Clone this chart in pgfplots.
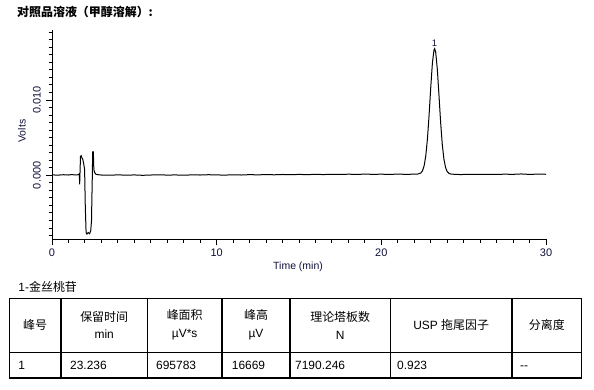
\documentclass[border=0pt]{standalone}
\usepackage{fontspec}
\setmainfont{Liberation Sans}
\newfontfamily\cjk{Noto Sans CJK SC}
\usepackage{pgfplots}
\pgfplotsset{compat=1.18}
\usepackage{pgfplotstable}
\definecolor{lab}{RGB}{15,15,60}
\pgfplotstableread{
t v
0.0 0.00005
0.4 0.00003
0.7 0.00008
1.0 0.00004
1.2 0.00010
1.4 0.00005
1.6 0.00008
1.66 0.00020
1.68 -0.00120
1.70 0.00030
1.73 0.00250
1.77 0.00260
1.82 0.00230
1.86 0.00220
1.92 0.00160
1.98 0.00080
2.02 -0.00400
2.07 -0.00760
2.12 -0.00780
2.20 -0.00760
2.28 -0.00775
2.35 -0.00740
2.40 -0.00600
2.42 -0.00330
2.45 0.00010
2.47 0.00310
2.51 0.00310
2.54 0.00080
2.58 0.00040
2.66 0.00015
2.8 0.00008
3.0 0.00004
3.5 0.00001
4.0 0.00006
4.5 0.00002
5.0 0.00005
5.5 0.00000
6.0 0.00004
6.5 0.00007
7.0 0.00003
7.5 0.00005
8.0 0.00001
8.5 0.00006
9.0 0.00004
9.5 0.00008
10.0 0.00005
10.5 0.00003
11.0 0.00007
11.5 0.00004
12.0 0.00009
12.5 0.00006
13.0 0.00010
13.5 0.00007
14.0 0.00011
14.5 0.00008
15.0 0.00012
15.5 0.00009
16.0 0.00013
16.5 0.00010
17.0 0.00014
17.5 0.00011
18.0 0.00015
18.5 0.00012
19.0 0.00016
19.5 0.00013
20.0 0.00015
20.5 0.00012
21.0 0.00016
21.5 0.00013
22.0 0.00015
22.2 0.00016
22.4 0.00031
22.5 0.00060
22.6 0.00128
22.7 0.00261
22.8 0.00485
22.9 0.00801
23.0 0.01165
23.1 0.01489
23.2 0.01668
23.236 0.01682
23.3 0.01637
23.4 0.01409
23.5 0.01063
23.6 0.00705
23.7 0.00412
23.8 0.00215
23.9 0.00103
24.0 0.00049
24.1 0.00027
24.2 0.00018
24.4 0.00014
24.8 0.00010
25.3 0.00013
26.0 0.00011
26.5 0.00014
27.0 0.00012
27.5 0.00015
28.0 0.00013
28.5 0.00018
29.0 0.00012
29.5 0.00016
30.0 0.00014
}\chrom
\begin{document}
\begin{tikzpicture}
\begin{axis}[
  at={(52bp,-239.3bp)}, anchor=south west,
  scale only axis, width=494bp, height=209.3bp,
  xmin=0, xmax=30, ymin=-0.0085, ymax=0.0193,
  axis lines=left, axis line style={-, line width=1bp, black},
  xtick={0,10,20,30}, minor x tick num=9,
  ytick={0,0.01}, yticklabels={0.000,0.010},
  minor ytick={-0.008,-0.007,-0.006,-0.005,-0.004,-0.003,-0.002,-0.001,0.001,0.002,0.003,0.004,0.005,0.006,0.007,0.008,0.009,0.011,0.012,0.013,0.014,0.015,0.016,0.017,0.018,0.019},
  scaled y ticks=false,
  tick align=outside,
  major tick length=6bp, minor tick length=3.5bp,
  every tick/.style={black, line width=1bp},
  /pgf/number format/assume math mode=true,
  tick label style={font=\fontsize{11}{13}\selectfont, text=lab},
  yticklabel style={rotate=90, anchor=south, inner sep=5bp},
  xticklabel style={anchor=north, inner sep=3.5bp},
  xlabel={Time (min)}, ylabel={Volts},
  label style={font=\fontsize{10.5}{12}\selectfont, text=lab},
  xlabel style={at={(axis description cs:0.498,-0.132)}, anchor=center},
  ylabel style={at={(axis description cs:-0.061,0.517)}, anchor=center, rotate=0},
  clip=false,
]
\addplot[black, line width=1bp] table[x=t,y=v]{\chrom};
\node[anchor=south, inner sep=1bp, font=\fontsize{9.5}{10}\selectfont, text=lab] at (axis cs:23.236,0.01700) {1};
\end{axis}
\begin{scope}[x=1bp,y=1bp]
\useasboundingbox (0,0) rectangle (594,-389);
\node[anchor=west, inner sep=0, font={\cjk\bfseries\fontsize{12}{14}\selectfont}] at (17,-11.5) {对照品溶液（甲醇溶解）:};
\node[anchor=west, inner sep=0, font={\fontsize{12}{14}\selectfont}] at (18.3,-286.7) {1-{\cjk 金丝桃苷}};
\draw[line width=1.2bp] (9.3,-298.3) rectangle (581.7,-378);
\draw[line width=1.2bp] (9.3,-352.3) -- (581.7,-352.3);
\foreach \c in {61,147.3,222,290,390.5,512} \draw[line width=1.2bp] (\c,-298.3) -- (\c,-378);
\begin{scope}[every node/.style={align=center, inner sep=0, font={\fontsize{12}{18}\selectfont}}]
\node at (35.2,-325) {\cjk 峰号};
\node at (104.2,-325) {{\cjk 保留时间}\\min};
\node at (184.7,-325) {{\cjk 峰面积}\\µV*s};
\node at (256,-325) {{\cjk 峰高}\\µV};
\node at (340.2,-325) {{\cjk 理论塔板数}\\N};
\node at (451.2,-325) {USP {\cjk 拖尾因子}};
\node at (546.9,-325) {\cjk 分离度};
\end{scope}
\begin{scope}[every node/.style={anchor=west, inner sep=0, text height=8.6bp, text depth=0bp, font={\fontsize{12}{14}\selectfont}}]
\node at (18.3,-365) {1};
\node at (70,-365) {23.236};
\node at (156,-365) {695783};
\node at (231.7,-365) {16669};
\node at (295,-365) {7190.246};
\node at (397,-365) {0.923};
\node at (520,-365) {-{}-};
\end{scope}
\end{scope}
\end{tikzpicture}
\end{document}
